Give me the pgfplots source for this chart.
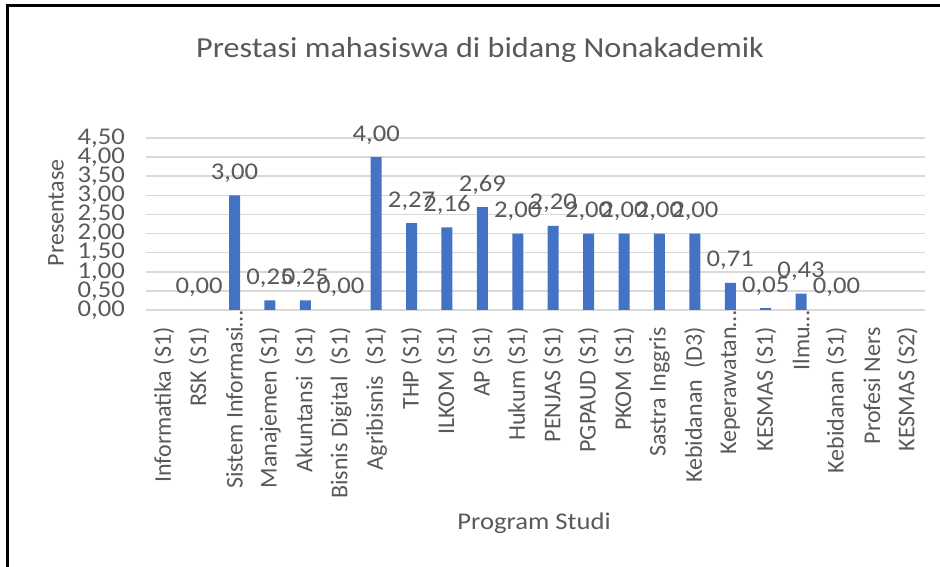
\documentclass[border=0pt]{standalone}
\usepackage{pgfplots}
\pgfplotsset{compat=1.18}
\usepackage{fontspec}
\setmainfont{Carlito}
\newfontfamily\wide{Carlito}[FakeStretch=1.11]
\definecolor{txt}{HTML}{595959}
\definecolor{barc}{HTML}{4472C4}
\definecolor{grd}{HTML}{D9D9D9}
\begin{document}
\begin{tikzpicture}
\useasboundingbox (0pt,0pt) rectangle (940pt,567pt);
\draw[line width=3pt] (7pt,0pt) -- (7pt,561pt) -- (940pt,561pt);
\node[anchor=base, text=txt, font=\wide\fontsize{29}{34}\selectfont, inner sep=0pt] at (480pt,509pt) {Prestasi mahasiswa di bidang Nonakademik};
\node[anchor=base, text=txt, font=\wide\fontsize{24}{28}\selectfont, inner sep=0pt] at (534pt,37pt) {Program Studi};
\node[rotate=90, anchor=center, text=txt, font=\fontsize{24}{28}\selectfont, inner sep=0pt] at (56pt,354pt) {Presentase};
\begin{axis}[
  at={(146pt,257pt)}, anchor=south west,
  width=779pt, height=172pt, scale only axis,
  xmin=-0.5, xmax=21.5, ymin=0, ymax=4.5,
  ytick={0,0.5,1,1.5,2,2.5,3,3.5,4,4.5},
  ymajorgrids, grid style={grd, line width=1.5pt},
  axis line style={draw=none},
  tick style={draw=none},
  xtick={0,...,21},
  xticklabels={Informatika (S1), RSK (S1), Sistem Informasi…\hspace*{-17pt}, Manajemen (S1), Akuntansi\ \ (S1), Bisnis Digital\ \ (S1), Agribisnis\ \ (S1), THP (S1), ILKOM (S1), AP (S1), Hukum (S1), PENJAS (S1), PGPAUD (S1), PKOM (S1), Sastra Inggris, Kebidanan\ \ (D3), Keperawatan…\hspace*{-17pt}, KESMAS (S1), Ilmu…\hspace*{-17pt}, Kebidanan (S1), Profesi Ners, KESMAS (S2)},
  xticklabel style={rotate=90, anchor=east, inner sep=0pt, text=txt, font=\fontsize{24}{28}\selectfont},
  xticklabel shift=13pt,
  yticklabel style={anchor=east, inner sep=0pt, text=txt, font=\wide\fontsize{24}{28}\selectfont},
  yticklabel shift=21pt,
  /pgf/number format/.cd, fixed, fixed zerofill, precision=2, use comma, assume math mode=true,
  /pgfplots/.cd,
  ybar, bar width=11pt, bar shift=0pt,
  nodes near coords,
  nodes near coords style={text=txt, font=\wide\fontsize{24}{28}\selectfont, anchor=base, yshift=16pt, inner sep=0pt},
]
\addplot[fill=barc, draw=none] coordinates {
(2,3) (3,0.25) (4,0.25) (6,4) (7,2.27) (8,2.16) (9,2.69) (10,2) (11,2.2) (12,2) (13,2) (14,2) (15,2) (16,0.71) (17,0.05) (18,0.43)
};
\addplot[fill=none, draw=none] coordinates {
(1,0) (5,0) (19,0)
};
\end{axis}
\end{tikzpicture}
\end{document}
